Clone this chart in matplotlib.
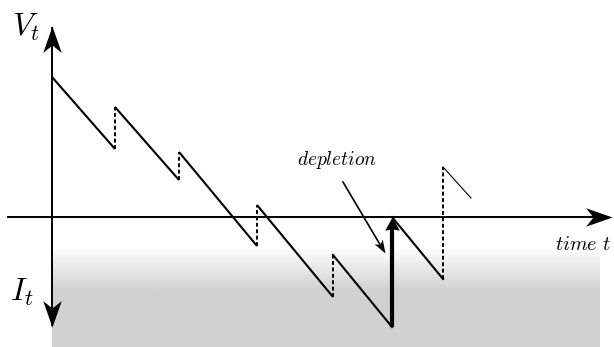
import numpy as np
import matplotlib
matplotlib.use("Agg")
import matplotlib.pyplot as plt
from matplotlib.path import Path

plt.rcParams['mathtext.fontset'] = 'cm'

# ---- data (time t, value V; axis at V = 0) ----
start_time = 0
start_value = 140
jump_times = [63, 127, 205, 281, 391]
pre_jump = [68, 37, -29, -80, -62]
post_jump = [110, 65, 12, -38, 50]
depletion_time = 340
depletion_low = -110
depletion_reset = 0
end_time = 419
end_value = 19

label_V = r'$V_t$'
label_I = r'$I_t$'
label_time = r'$time\ t$'
label_depl = r'$depletion$'

fig = plt.figure(figsize=(6.14, 3.47), dpi=100)
ax = fig.add_axes([0, 0, 1, 1])
ax.set_xlim(-52, 562)
ax.set_ylim(-130, 217)
ax.axis('off')

# gradient shading below axis
ys = np.linspace(0, -130, 300)
vals = np.interp(-ys, [0, 8, 30, 73, 130], [0.985, 1.0, 1.0, 0.82, 0.82])
img = np.repeat(vals[:, None], 2, axis=1)
ax.imshow(img, extent=[0, 548, -130, 0], cmap='gray', vmin=0, vmax=1,
          aspect='auto', origin='upper', zorder=0, interpolation='bilinear')


def stealth(angle_deg, notch=0.72, width=0.33):
    verts = np.array([[0, 0], [-1, width], [-notch, 0], [-1, -width], [0, 0]])
    a = np.deg2rad(angle_deg)
    R = np.array([[np.cos(a), -np.sin(a)], [np.sin(a), np.cos(a)]])
    verts = verts @ R.T
    return Path(verts, [Path.MOVETO, Path.LINETO, Path.LINETO, Path.LINETO, Path.CLOSEPOLY])


# axes
ax.plot([0, 0], [-108, 189], color='black', lw=1.4, zorder=2)
ax.plot([-44, 556], [0, 0], color='black', lw=1.4, zorder=2)
ax.plot([0], [191], marker=stealth(90, width=0.35), markersize=38, color='black', mew=0, zorder=3)
ax.plot([0], [-110], marker=stealth(-90, width=0.35), markersize=38, color='black', mew=0, zorder=3)
ax.plot([560], [0], marker=stealth(0, width=0.35), markersize=38, color='black', mew=0, zorder=3)

# sawtooth path
seg_starts_t = [start_time] + jump_times[:-1]
seg_starts_v = [start_value] + post_jump[:-1]
for t0, v0, t1, v1 in zip(seg_starts_t[:4], seg_starts_v[:4], jump_times[:4], pre_jump[:4]):
    ax.plot([t0, t1], [v0, v1], color='black', lw=1.5, zorder=4, solid_capstyle='butt')
# segment ending in depletion
ax.plot([jump_times[3], depletion_time], [post_jump[3], depletion_low], color='black', lw=1.5, zorder=4)
# after depletion
ax.plot([depletion_time, jump_times[4]], [depletion_reset, pre_jump[4]], color='black', lw=1.5, zorder=4)
# final thin segment
ax.plot([jump_times[4], end_time], [post_jump[4], end_value], color='black', lw=0.8, zorder=4)

# dashed jumps
for t, a, b in zip(jump_times, pre_jump, post_jump):
    ax.plot([t, t], [a, b], color='black', lw=1.4, ls=(0, (2.0, 1.3)), zorder=4)

# depletion thick arrow
ax.plot([depletion_time, depletion_time], [depletion_low, depletion_reset - 10], color='black',
        lw=3, zorder=5, solid_capstyle='butt')
ax.plot([depletion_time], [depletion_reset], marker=stealth(90, notch=0.9, width=0.55),
        markersize=19, color='black', mew=0, zorder=6)

# depletion pointer
p0 = (291, 35)
p1 = (333, -36)
ang = np.degrees(np.arctan2(p1[1] - p0[1], p1[0] - p0[0]))
ax.plot([p0[0], p1[0] - 4 * np.cos(np.radians(ang))], [p0[1], p1[1] - 4 * np.sin(np.radians(ang))],
        color='black', lw=1.2, zorder=5)
ax.plot([p1[0]], [p1[1]], marker=stealth(ang, notch=0.75, width=0.35), markersize=20,
        color='black', mew=0, zorder=6)

# labels
ax.text(-26, 190, label_V, fontsize=23, ha='center', va='center')
ax.text(-30, -75, label_I, fontsize=23, ha='center', va='center')
ax.text(285, 57, label_depl, fontsize=14, ha='center', va='center')
ax.text(531, -28, label_time, fontsize=14.5, ha='center', va='center')

fig.savefig('out.png', dpi=100)
